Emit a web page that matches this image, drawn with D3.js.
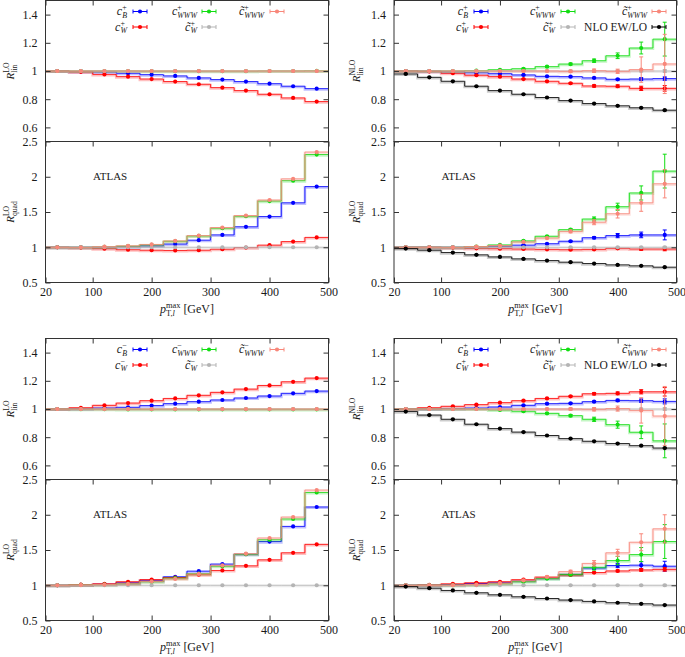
<!DOCTYPE html>
<html><head><meta charset="utf-8">
<script src="https://cdn.jsdelivr.net/npm/d3@7"></script>
<style>
body{margin:0;background:#fff}
svg{display:block}
text{font-family:"Liberation Serif","Times New Roman",serif;fill:#1a1a1a}
</style>
</head><body>
<svg id="chart" width="685" height="657" font-family="Liberation Serif, serif"></svg>
<script>
// ---------------- DATA ----------------
const binEdges = [20,60,100,140,180,220,260,300,340,380,420,460,500];
const binCenters = [40,80,120,160,200,240,280,320,360,400,440,480];
const xTickValues = [20,100,200,300,400,500];
const linTickValues = [0.6,0.8,1,1.2,1.4];
const quadTickValues = [0.5,1,1.5,2,2.5];

// Top-left: LO, c+ operators
const tl_lin_cB    = [1.000,0.997,0.993,0.984,0.974,0.965,0.951,0.939,0.925,0.910,0.892,0.875];
const tl_lin_cW    = [1.000,0.994,0.976,0.960,0.943,0.925,0.906,0.882,0.861,0.835,0.809,0.783];
const tl_lin_cWWW  = [1.000,1.000,1.000,1.000,0.999,0.999,0.999,0.999,0.999,1.000,1.000,1.001];
const tl_lin_ctW   = [1,1,1,1,1,1,1,1,1,1,1,1];
const tl_lin_ctWWW = [1,1,1,1,1,1,1,1,1,1,1,1];
const tl_quad_cB    = [1.000,1.000,1.000,1.008,1.020,1.045,1.100,1.175,1.290,1.435,1.630,1.860];
const tl_quad_cW    = [1.000,0.995,0.980,0.965,0.958,0.955,0.958,0.972,0.995,1.030,1.080,1.140];
const tl_quad_cWWW  = [1.000,1.000,1.005,1.015,1.035,1.085,1.160,1.270,1.440,1.655,1.945,2.315];
const tl_quad_ctW   = [1,1,1,1,1,1,1,1,1,1,1,1];
const tl_quad_ctWWW = [1.000,1.000,1.008,1.020,1.040,1.090,1.165,1.280,1.450,1.670,1.970,2.350];

// Top-right: NLO, c+ operators
const tr_lin_nlo    = [0.979,0.955,0.927,0.892,0.861,0.835,0.812,0.790,0.769,0.753,0.739,0.722];
const tr_lin_cB     = [1.000,0.999,0.995,0.988,0.981,0.972,0.962,0.960,0.951,0.941,0.943,0.946];
const tr_lin_cW     = [1.000,0.997,0.984,0.970,0.960,0.943,0.927,0.913,0.894,0.892,0.877,0.877];
const tr_lin_cWWW   = [1.000,1.000,1.000,1.002,1.009,1.016,1.031,1.049,1.073,1.108,1.163,1.226];
const tr_lin_ctW    = [1,1,1,1,1,1,1,1,1,1,1,1];
const tr_lin_ctWWW  = [1.000,1.000,1.000,1.000,1.000,1.000,1.000,0.998,1.002,0.998,1.010,1.050];
const tr_lin_err_nlo   = [0.001,0.001,0.001,0.001,0.001,0.001,0.002,0.002,0.002,0.003,0.003,0.004];
const tr_lin_err_cB    = [0.001,0.001,0.001,0.001,0.002,0.002,0.003,0.003,0.004,0.006,0.010,0.012];
const tr_lin_err_cW    = [0.001,0.001,0.001,0.002,0.002,0.003,0.004,0.005,0.008,0.010,0.015,0.020];
const tr_lin_err_cWWW  = [0.001,0.001,0.001,0.002,0.003,0.004,0.005,0.007,0.012,0.020,0.042,0.120];
const tr_lin_err_ctW   = [0.001,0.001,0.001,0.001,0.001,0.001,0.002,0.002,0.003,0.004,0.006,0.010];
const tr_lin_err_ctWWW = [0.001,0.001,0.001,0.002,0.003,0.004,0.005,0.008,0.012,0.015,0.090,0.210];
const tr_quad_nlo    = [0.981,0.958,0.925,0.892,0.863,0.835,0.811,0.788,0.769,0.750,0.736,0.717];
const tr_quad_cB     = [1.000,1.000,1.000,1.003,1.015,1.030,1.050,1.085,1.135,1.165,1.175,1.175];
const tr_quad_cW     = [1.000,1.000,0.995,0.985,0.980,0.975,0.970,0.965,0.970,0.985,0.975,0.975];
const tr_quad_cWWW   = [1.000,1.000,1.000,1.010,1.033,1.090,1.156,1.250,1.400,1.575,1.770,2.080];
const tr_quad_ctW    = [1,1,1,1,1,1,1,1,1,1,1,1];
const tr_quad_ctWWW  = [1.000,1.000,1.000,1.010,1.024,1.075,1.130,1.225,1.355,1.475,1.630,1.900];
const tr_quad_err_nlo   = [0.002,0.002,0.002,0.002,0.002,0.002,0.003,0.003,0.003,0.004,0.004,0.005];
const tr_quad_err_cB    = [0.002,0.002,0.002,0.003,0.004,0.005,0.006,0.008,0.015,0.030,0.040,0.070];
const tr_quad_err_cW    = [0.002,0.002,0.002,0.003,0.004,0.005,0.006,0.007,0.010,0.012,0.018,0.025];
const tr_quad_err_cWWW  = [0.002,0.002,0.003,0.004,0.006,0.008,0.010,0.015,0.030,0.050,0.100,0.240];
const tr_quad_err_ctW   = [0.001,0.001,0.001,0.001,0.002,0.002,0.002,0.003,0.004,0.005,0.008,0.012];
const tr_quad_err_ctWWW = [0.002,0.002,0.003,0.004,0.006,0.008,0.012,0.020,0.035,0.060,0.120,0.200];

// Bottom-left: LO, c- operators
const bl_lin_cB    = [1.000,1.003,1.007,1.012,1.024,1.038,1.052,1.064,1.078,1.092,1.111,1.127];
const bl_lin_cW    = [1.000,1.009,1.026,1.042,1.059,1.075,1.097,1.118,1.141,1.167,1.193,1.219];
const bl_lin_cWWW  = [1.000,0.999,0.999,0.998,0.998,0.998,0.998,0.998,0.998,0.998,0.998,0.998];
const bl_lin_ctW   = [1,1,1,1,1,1,1,1,1,1,1,1];
const bl_lin_ctWWW = [1,1,1,1,1,1,1,1,1,1,1,1];
const bl_quad_cB    = [1.000,1.005,1.015,1.035,1.070,1.120,1.200,1.300,1.440,1.620,1.835,2.110];
const bl_quad_cW    = [1.000,1.008,1.020,1.050,1.080,1.110,1.150,1.210,1.275,1.360,1.460,1.580];
const bl_quad_cWWW  = [1.000,1.005,1.010,1.020,1.050,1.100,1.165,1.270,1.440,1.646,1.940,2.316];
const bl_quad_ctW   = [1,1,1,1,1,1,1,1,1,1,1,1];
const bl_quad_ctWWW = [1.000,1.005,1.010,1.020,1.055,1.090,1.160,1.283,1.448,1.670,1.967,2.350];

// Bottom-right: NLO operators
const br_lin_nlo    = [0.982,0.957,0.927,0.892,0.861,0.836,0.812,0.790,0.771,0.755,0.740,0.723];
const br_lin_cB     = [1.000,1.000,1.004,1.007,1.014,1.026,1.038,1.040,1.052,1.061,1.059,1.054];
const br_lin_cW     = [1.000,1.009,1.019,1.031,1.045,1.059,1.075,1.090,1.108,1.111,1.122,1.122];
const br_lin_cWWW   = [1.000,1.000,1.000,1.000,0.993,0.984,0.969,0.953,0.927,0.889,0.835,0.774];
const br_lin_ctW    = [1,1,1,1,1,1,1,1,1,1,1,1];
const br_lin_ctWWW  = [1.000,1.000,1.000,1.000,1.000,1.000,1.000,1.000,0.998,1.003,0.990,0.950];
const br_lin_err_nlo   = [0.001,0.001,0.001,0.001,0.001,0.001,0.002,0.002,0.002,0.003,0.003,0.004];
const br_lin_err_cB    = [0.001,0.001,0.001,0.001,0.002,0.002,0.003,0.004,0.005,0.008,0.012,0.018];
const br_lin_err_cW    = [0.001,0.001,0.001,0.002,0.002,0.003,0.004,0.005,0.008,0.010,0.015,0.030];
const br_lin_err_cWWW  = [0.001,0.001,0.001,0.002,0.003,0.004,0.005,0.008,0.015,0.025,0.045,0.120];
const br_lin_err_ctW   = [0.001,0.001,0.001,0.001,0.001,0.001,0.002,0.002,0.003,0.004,0.006,0.010];
const br_lin_err_ctWWW = [0.001,0.001,0.001,0.002,0.003,0.004,0.005,0.008,0.012,0.018,0.090,0.210];
const br_quad_nlo    = [0.981,0.958,0.926,0.893,0.864,0.836,0.812,0.790,0.771,0.752,0.737,0.719];
const br_quad_cB     = [1.000,1.000,1.010,1.025,1.040,1.065,1.100,1.155,1.245,1.280,1.285,1.270];
const br_quad_cW     = [1.000,1.005,1.020,1.035,1.050,1.080,1.113,1.146,1.180,1.203,1.217,1.226];
const br_quad_cWWW   = [1.000,1.000,1.000,1.005,1.020,1.050,1.094,1.155,1.255,1.350,1.435,1.620];
const br_quad_ctW    = [1,1,1,1,1,1,1,1,1,1,1,1];
const br_quad_ctWWW  = [1.000,1.000,1.000,1.010,1.030,1.070,1.120,1.193,1.310,1.460,1.610,1.800];
const br_quad_err_nlo   = [0.002,0.002,0.002,0.002,0.002,0.002,0.003,0.003,0.003,0.004,0.004,0.005];
const br_quad_err_cB    = [0.002,0.002,0.002,0.003,0.004,0.005,0.006,0.010,0.020,0.030,0.050,0.070];
const br_quad_err_cW    = [0.002,0.002,0.002,0.003,0.004,0.005,0.006,0.007,0.010,0.012,0.018,0.025];
const br_quad_err_cWWW  = [0.002,0.002,0.003,0.004,0.006,0.008,0.012,0.020,0.040,0.060,0.100,0.240];
const br_quad_err_ctW   = [0.001,0.001,0.001,0.001,0.002,0.002,0.002,0.003,0.004,0.005,0.008,0.012];
const br_quad_err_ctWWW = [0.002,0.002,0.003,0.004,0.006,0.008,0.012,0.020,0.040,0.050,0.120,0.200];

const seriesKeys = ["cB","cW","cWWW","ctW","ctWWW","nlo"];
const seriesColors = {cB:"#0000ff", cW:"#ff0000", cWWW:"#11dd11", ctW:"#b4b4b4", ctWWW:"#f8877a", nlo:"#000000"};
const seriesSub = {cB:"B", cW:"W", cWWW:"WWW", ctW:"W", ctWWW:"WWW"};
const seriesTilde = {cB:false, cW:false, cWWW:false, ctW:true, ctWWW:true};

// ---------------- LAYOUT ----------------
const FONT = '"Liberation Serif","Times New Roman",serif';
const svg = d3.select("#chart");
const cols = [{x0:45.5, x1:328.5}, {x0:394, x1:676.5}];
const rows = [
  {lin:[0.5,141.5], quad:[141.5,282.5]},
  {lin:[338.5,479.5], quad:[479.5,620.5]}
];
const legendPos = [
  {textEnd:[81.5,151.5,218.5], sample:[87.5,156.5,224.5]},
  {textEnd:[74,161,253], sample:[80,167,258]}
];

function mathText(parent, o) {
  const size = o.size || 11, ss = size*(o.ratio || 0.7);
  const t = parent.append("text").attr("x", o.x).attr("y", o.y)
    .attr("text-anchor", o.anchor || "start").style("font-size", size+"px").style("font-family", FONT);
  t.append("tspan").text(o.base).style("font-style", o.baseItalic===false ? "normal":"italic");
  let supW = 0, subW = 0;
  const up = o.up != null ? o.up : size*0.42, down = o.down != null ? o.down : size*0.28;
  if (o.sup) {
    const s = t.append("tspan").attr("dy", -up).style("font-size", ss+"px").text(o.sup);
    supW = s.node().getComputedTextLength();
  }
  if (o.sub) {
    o.sub.forEach((p, i) => {
      const s = t.append("tspan").style("font-size", ss+"px")
        .style("font-style", p[1] ? "italic" : "normal").text(p[0]);
      if (i === 0) s.attr("dx", -supW).attr("dy", (o.sup ? up : 0) + down);
      subW += s.node().getComputedTextLength();
    });
  }
  if (o.tail) {
    t.append("tspan").attr("dx", Math.max(0, supW - subW))
      .attr("dy", o.sub ? -down : (o.sup ? up : 0)).text(o.tail);
  }
  return t;
}

function drawSub(g, X, Yr, domain, tickVals, data, errs, clipId, showBottomTicks) {
  const [x0, x1] = X.range();
  const Y = d3.scaleLinear().domain(domain).range([Yr[1], Yr[0]]);
  g.append("clipPath").attr("id", clipId).append("rect")
    .attr("x", x0).attr("y", Yr[0]).attr("width", x1-x0).attr("height", Yr[1]-Yr[0]);
  const plot = g.append("g").attr("clip-path", `url(#${clipId})`);
  const line = d3.line().x(d => X(d[0])).y(d => Y(d[1])).curve(d3.curveStepAfter);
  seriesKeys.forEach(k => {
    const vals = data[k];
    if (!vals) return;
    const col = seriesColors[k];
    const pts = binEdges.slice(0, -1).map((e, i) => [e, vals[i]]).concat([[binEdges[binEdges.length-1], vals[vals.length-1]]]);
    plot.append("path").attr("d", line(pts)).attr("fill","none").attr("stroke", col)
      .attr("stroke-width", 2.6).attr("stroke-opacity", k==="nlo"?0.2:0.25)
      .attr("transform","translate(0,0.8)");
    plot.append("path").attr("d", line(pts)).attr("fill","none").attr("stroke", col)
      .attr("stroke-width", 1).attr("stroke-opacity", 0.8);
    if (errs && errs[k]) {
      const e = errs[k];
      const eb = plot.append("g").attr("stroke", col).attr("stroke-width", 1);
      binCenters.forEach((c, i) => {
        const cx = X(c), ya = Y(vals[i] - e[i]), yb = Y(vals[i] + e[i]);
        eb.append("line").attr("x1", cx).attr("x2", cx).attr("y1", ya).attr("y2", yb);
        eb.append("line").attr("x1", cx-2).attr("x2", cx+2).attr("y1", ya).attr("y2", ya);
        eb.append("line").attr("x1", cx-2).attr("x2", cx+2).attr("y1", yb).attr("y2", yb);
      });
    }
    plot.append("g").selectAll("circle").data(vals).join("circle")
      .attr("cx", (d, i) => X(binCenters[i])).attr("cy", d => Y(d)).attr("r", 2.1).attr("fill", col);
  });
  const fmt = d => String(d);
  const la = g.append("g").attr("transform", `translate(${x0},0)`)
    .call(d3.axisLeft(Y).tickValues(tickVals).tickSize(-5).tickPadding(8).tickFormat(fmt));
  la.select(".domain").remove();
  la.selectAll("text").style("font-size","12px").style("font-family",FONT).attr("fill","#1a1a1a");
  la.selectAll("line").attr("stroke","#333");
  const ra = g.append("g").attr("transform", `translate(${x1},0)`)
    .call(d3.axisRight(Y).tickValues(tickVals).tickSize(-5).tickFormat(""));
  ra.select(".domain").remove(); ra.selectAll("line").attr("stroke","#333");
  const ta = g.append("g").attr("transform", `translate(0,${Yr[0]})`)
    .call(d3.axisTop(X).tickValues(xTickValues).tickSize(-5).tickFormat(""));
  ta.select(".domain").remove(); ta.selectAll("line").attr("stroke","#333");
  if (showBottomTicks) {
    const ba = g.append("g").attr("transform", `translate(0,${Yr[1]})`)
      .call(d3.axisBottom(X).tickValues(xTickValues).tickSize(-5).tickFormat(fmt));
    ba.select(".domain").remove(); ba.selectAll("line").attr("stroke","#333");
    ba.selectAll("text").attr("y", 13.5).attr("dy", null)
      .style("font-size","12px").style("font-family",FONT).attr("fill","#1a1a1a");
  }
  g.append("rect").attr("x", x0).attr("y", Yr[0]).attr("width", x1-x0).attr("height", Yr[1]-Yr[0])
    .attr("fill","none").attr("stroke","#333").attr("stroke-width",1);
  return Y;
}

function drawQuadrant(ci, ri, spec) {
  const c = cols[ci], r = rows[ri];
  const g = svg.append("g");
  const X = d3.scaleLinear().domain([binEdges[0], binEdges[binEdges.length-1]]).range([c.x0, c.x1]);
  drawSub(g, X, r.lin, [0.5,1.5], linTickValues, spec.lin, spec.linErr, `cl${ci}${ri}a`, false);
  drawSub(g, X, r.quad, [0.5,2.5], quadTickValues, spec.quad, spec.quadErr, `cl${ci}${ri}b`, true);

  g.append("text").attr("x", c.x0 + 47.5).attr("y", r.quad[0] + 38)
    .style("font-size","11px").style("font-family",FONT).text("ATLAS");

  const ytx = ci === 0 ? 14 : 360;
  [["lin", r.lin], ["quad", r.quad]].forEach(([nm, yr]) => {
    const gg = g.append("g").attr("transform", `translate(${ytx},${(yr[0]+yr[1])/2}) rotate(-90)`);
    mathText(gg, {x:0, y:0, anchor:"middle", base:"R", sub:[[nm,false]], sup:spec.order, size:11});
  });
  mathText(g, {x:(c.x0+c.x1)/2, y:r.quad[1] + 30, anchor:"middle", base:"p",
    sub:[["T,",false],["l",true]], sup:"max", tail:"  [GeV]", size:12, up:4.5, down:3});

  const lp = legendPos[ci];
  spec.legend.forEach(item => {
    const ly = r.lin[0] + 11 + item.row * 15.5;
    const tx = c.x0 + lp.textEnd[item.col];
    if (item.key === "nlo") {
      g.append("text").attr("x", tx).attr("y", ly + 4).attr("text-anchor","end")
        .style("font-size","11.5px").style("font-family",FONT).text("NLO EW/LO");
    } else {
      mathText(g, {x:tx, y:ly + 3.5, anchor:"end",
        base: seriesTilde[item.key] ? "c\u0303" : "c",
        sub:[[seriesSub[item.key], true]], sup: spec.sign, size:12, ratio:0.66, up:4.8, down:2.6});
    }
    const sx = c.x0 + lp.sample[item.col], col = seriesColors[item.key];
    const sg = g.append("g").attr("stroke", col).attr("stroke-width", 1);
    sg.append("line").attr("x1", sx).attr("x2", sx+14).attr("y1", ly).attr("y2", ly);
    sg.append("line").attr("x1", sx).attr("x2", sx).attr("y1", ly-2).attr("y2", ly+2);
    sg.append("line").attr("x1", sx+14).attr("x2", sx+14).attr("y1", ly-2).attr("y2", ly+2);
    g.append("circle").attr("cx", sx+7).attr("cy", ly).attr("r", 2.1).attr("fill", col);
  });
}

const legendLO = [
  {key:"cB",col:0,row:0},{key:"cWWW",col:1,row:0},{key:"ctWWW",col:2,row:0},
  {key:"cW",col:0,row:1},{key:"ctW",col:1,row:1}
];
const legendNLO = legendLO.concat([{key:"nlo",col:2,row:1}]);

drawQuadrant(0, 0, {order:"LO", sign:"+", legend:legendLO,
  lin:{cB:tl_lin_cB, cW:tl_lin_cW, cWWW:tl_lin_cWWW, ctW:tl_lin_ctW, ctWWW:tl_lin_ctWWW},
  quad:{cB:tl_quad_cB, cW:tl_quad_cW, cWWW:tl_quad_cWWW, ctW:tl_quad_ctW, ctWWW:tl_quad_ctWWW}});
drawQuadrant(1, 0, {order:"NLO", sign:"+", legend:legendNLO,
  lin:{cB:tr_lin_cB, cW:tr_lin_cW, cWWW:tr_lin_cWWW, ctW:tr_lin_ctW, ctWWW:tr_lin_ctWWW, nlo:tr_lin_nlo},
  linErr:{cB:tr_lin_err_cB, cW:tr_lin_err_cW, cWWW:tr_lin_err_cWWW, ctW:tr_lin_err_ctW, ctWWW:tr_lin_err_ctWWW, nlo:tr_lin_err_nlo},
  quad:{cB:tr_quad_cB, cW:tr_quad_cW, cWWW:tr_quad_cWWW, ctW:tr_quad_ctW, ctWWW:tr_quad_ctWWW, nlo:tr_quad_nlo},
  quadErr:{cB:tr_quad_err_cB, cW:tr_quad_err_cW, cWWW:tr_quad_err_cWWW, ctW:tr_quad_err_ctW, ctWWW:tr_quad_err_ctWWW, nlo:tr_quad_err_nlo}});
drawQuadrant(0, 1, {order:"LO", sign:"\u2212", legend:legendLO,
  lin:{cB:bl_lin_cB, cW:bl_lin_cW, cWWW:bl_lin_cWWW, ctW:bl_lin_ctW, ctWWW:bl_lin_ctWWW},
  quad:{cB:bl_quad_cB, cW:bl_quad_cW, cWWW:bl_quad_cWWW, ctW:bl_quad_ctW, ctWWW:bl_quad_ctWWW}});
drawQuadrant(1, 1, {order:"NLO", sign:"+", legend:legendNLO,
  lin:{cB:br_lin_cB, cW:br_lin_cW, cWWW:br_lin_cWWW, ctW:br_lin_ctW, ctWWW:br_lin_ctWWW, nlo:br_lin_nlo},
  linErr:{cB:br_lin_err_cB, cW:br_lin_err_cW, cWWW:br_lin_err_cWWW, ctW:br_lin_err_ctW, ctWWW:br_lin_err_ctWWW, nlo:br_lin_err_nlo},
  quad:{cB:br_quad_cB, cW:br_quad_cW, cWWW:br_quad_cWWW, ctW:br_quad_ctW, ctWWW:br_quad_ctWWW, nlo:br_quad_nlo},
  quadErr:{cB:br_quad_err_cB, cW:br_quad_err_cW, cWWW:br_quad_err_cWWW, ctW:br_quad_err_ctW, ctWWW:br_quad_err_ctWWW, nlo:br_quad_err_nlo}});
</script>
</body></html>
